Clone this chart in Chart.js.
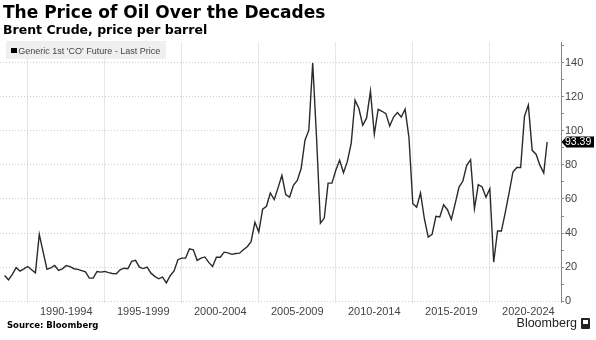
<!DOCTYPE html>
<html><head><meta charset="utf-8">
<script src="https://cdn.jsdelivr.net/npm/chart.js@4.4.0/dist/chart.umd.min.js"></script>
<style>
html,body{margin:0;padding:0;background:#fff;}
#wrap{position:relative;width:596px;height:340px;overflow:hidden;}
#c{position:absolute;left:0;top:0;}
.t{position:absolute;white-space:nowrap;}
#title{left:3px;top:4px;font:bold 17px/17px "DejaVu Sans";color:#000;}
#sub{left:3px;top:23.7px;font:bold 12.5px/12.5px "DejaVu Sans";color:#000;}
#leg{position:absolute;left:6px;top:40.5px;width:160px;height:18px;background:rgba(236,236,236,0.85);}
#legsq{position:absolute;left:11px;top:47.7px;width:5.5px;height:5.5px;background:#000;}
#legt{left:18.3px;top:46.7px;font:9px/9px "Liberation Sans";color:#444;}
#src{left:7px;top:320.8px;font:bold 8.5px/8.5px "DejaVu Sans";color:#000;}
#bb{right:19px;top:317.4px;font:12.5px/12.5px "Liberation Sans";color:#222;}
#ico{position:absolute;left:581px;top:318px;width:9px;height:11px;background:#222;border-radius:1px;}
#ico i{position:absolute;left:2px;top:2px;width:5px;height:4px;background:#fff;}
</style></head>
<body><div id="wrap">
<canvas id="c" width="596" height="340"></canvas>
<div class="t" id="title">The Price of Oil Over the Decades</div>
<div class="t" id="sub">Brent Crude, price per barrel</div>
<div id="leg"></div><div id="legsq"></div>
<div class="t" id="legt">Generic 1st 'CO' Future - Last Price</div>
<div class="t" id="src">Source: Bloomberg</div>
<div class="t" id="bb">Bloomberg</div>
<div id="ico"><i></i></div>
</div>
<script>
// Quarter-end observations (plus the latest print)
const quarters = [
 '1988Q2','1988Q3','1988Q4',
 '1989Q1','1989Q2','1989Q3','1989Q4',
 '1990Q1','1990Q2','1990Q3','1990Q4',
 '1991Q1','1991Q2','1991Q3','1991Q4',
 '1992Q1','1992Q2','1992Q3','1992Q4',
 '1993Q1','1993Q2','1993Q3','1993Q4',
 '1994Q1','1994Q2','1994Q3','1994Q4',
 '1995Q1','1995Q2','1995Q3','1995Q4',
 '1996Q1','1996Q2','1996Q3','1996Q4',
 '1997Q1','1997Q2','1997Q3','1997Q4',
 '1998Q1','1998Q2','1998Q3','1998Q4',
 '1999Q1','1999Q2','1999Q3','1999Q4',
 '2000Q1','2000Q2','2000Q3','2000Q4',
 '2001Q1','2001Q2','2001Q3','2001Q4',
 '2002Q1','2002Q2','2002Q3','2002Q4',
 '2003Q1','2003Q2','2003Q3','2003Q4',
 '2004Q1','2004Q2','2004Q3','2004Q4',
 '2005Q1','2005Q2','2005Q3','2005Q4',
 '2006Q1','2006Q2','2006Q3','2006Q4',
 '2007Q1','2007Q2','2007Q3','2007Q4',
 '2008Q1','2008Q2','2008Q3','2008Q4',
 '2009Q1','2009Q2','2009Q3','2009Q4',
 '2010Q1','2010Q2','2010Q3','2010Q4',
 '2011Q1','2011Q2','2011Q3','2011Q4',
 '2012Q1','2012Q2','2012Q3','2012Q4',
 '2013Q1','2013Q2','2013Q3','2013Q4',
 '2014Q1','2014Q2','2014Q3','2014Q4',
 '2015Q1','2015Q2','2015Q3','2015Q4',
 '2016Q1','2016Q2','2016Q3','2016Q4',
 '2017Q1','2017Q2','2017Q3','2017Q4',
 '2018Q1','2018Q2','2018Q3','2018Q4',
 '2019Q1','2019Q2','2019Q3','2019Q4',
 '2020Q1','2020Q2','2020Q3','2020Q4',
 '2021Q1','2021Q2','2021Q3','2021Q4',
 '2022Q1','2022Q2','2022Q3','2022Q4',
 '2023Q1','2023Q2','2023-09-21'
];
const prices = [
 15.1,12.6,15.8,
 19.7,17.7,19.0,20.4,
 18.5,16.7,39.2,29.0,
 18.7,19.6,21.0,18.1,
 19.0,21.0,20.3,19.1,
 18.7,18.0,17.3,13.6,
 13.6,17.5,17.1,17.5,
 16.8,16.3,16.1,18.5,
 19.4,19.1,23.4,24.0,
 20.0,19.2,20.0,16.5,
 14.6,13.2,14.2,10.8,
 15.0,17.8,24.4,25.3,
 25.4,30.8,30.2,24.0,
 25.3,26.0,22.8,20.4,
 25.9,25.8,28.8,28.4,
 27.5,28.0,28.2,30.2,
 32.0,35.0,46.3,40.6,
 54.0,55.7,63.5,59.6,
 66.5,73.8,62.5,61.1,
 68.0,70.9,77.8,94.4,
 100.3,139.7,96.0,45.8,
 48.8,69.3,69.3,76.8,
 82.7,75.4,82.0,92.5,
 117.9,113.0,103.2,107.5,
 123.2,97.9,112.6,111.4,
 110.0,102.8,108.0,110.6,
 108.0,112.6,96.0,57.2,
 55.2,63.5,48.4,37.6,
 39.2,49.8,49.4,56.6,
 53.7,48.0,57.3,67.0,
 70.5,79.7,83.0,54.3,
 68.4,67.0,61.0,66.0,
 23.0,41.2,41.2,52.0,
 63.5,75.8,78.4,78.4,
 108.5,115.0,88.5,86.2,
 79.8,75.2,93.39
];
const periodStarts = [1990,1995,2000,2005,2010,2015,2020];
const periodLabels = ['1990-1994','1995-1999','2000-2004','2005-2009','2010-2014','2015-2019','2020-2024'];
const yTickValues = [0,10,20,30,40,50,60,70,80,90,100,110,120,130,140,150];

function toYear(s){
  if (s.indexOf('Q') > 0){ const p = s.split('Q'); return +p[0] + (+p[1])*0.25; }
  const d = new Date(s + 'T00:00:00Z'); const y = d.getUTCFullYear();
  const a = Date.UTC(y,0,1), b = Date.UTC(y+1,0,1);
  return y + (d.getTime()-a)/(b-a);
}
const points = quarters.map((q,i)=>({x: toYear(q), y: prices[i]}));
const XMIN = 1988.2, XMAX = 2024.62, RIGHT_AXIS_W = 35;
const pxPerYear = (596 - RIGHT_AXIS_W) / (XMAX - XMIN);

const lastLabel = {
  id:'lastLabel',
  afterDraw(chart){
    const ctx = chart.ctx, ys = chart.scales.y, ca = chart.chartArea;
    const v = prices[prices.length-1];
    const y = ys.getPixelForValue(v);
    const x0 = ca.right + 0.5;
    ctx.save();
    ctx.fillStyle = '#000';
    ctx.beginPath();
    ctx.moveTo(x0, y);
    ctx.lineTo(x0+5, y-5.5);
    ctx.lineTo(594, y-5.5);
    ctx.lineTo(594, y+5.5);
    ctx.lineTo(x0+5, y+5.5);
    ctx.closePath();
    ctx.fill();
    ctx.fillStyle = '#fff';
    ctx.font = '10.5px "Liberation Sans"';
    ctx.textBaseline = 'middle';
    ctx.textAlign = 'left';
    ctx.fillText(v.toFixed(2), x0+3.5, y+0.5);
    ctx.restore();
  }
};

new Chart(document.getElementById('c'), {
  type:'line',
  data:{datasets:[{data: points, borderColor:'#2a2a2a', borderWidth:1.4, pointRadius:0, tension:0, fill:false}]},
  options:{
    responsive:false, animation:false, devicePixelRatio:1,
    layout:{padding:{left:0,right:0,top:42,bottom:0}},
    plugins:{legend:{display:false}, tooltip:{enabled:false}, title:{display:false}},
    scales:{
      x:{
        type:'linear', min:XMIN, max:XMAX, position:'bottom',
        afterBuildTicks: s => { s.ticks = periodStarts.map(v=>({value:v})); },
        afterFit: s => { s.height = 37.5; s.paddingLeft = 0; s.paddingRight = 0; },
        grid:{color:'#e6e6e6', lineWidth:1, drawTicks:false},
        border:{display:false},
        ticks:{
          callback:(v,i)=>periodLabels[i], labelOffset: pxPerYear*2.5, padding:3,
          maxRotation:0, autoSkip:false, font:{family:'Liberation Sans', size:11}, color:'#444'
        }
      },
      y:{
        position:'right', min:-0.7, max:152,
        afterBuildTicks: s => { s.ticks = yTickValues.map(v=>({value:v})); },
        afterFit: s => { s.width = RIGHT_AXIS_W; s.paddingTop = 0; s.paddingBottom = 0; },
        grid:{
          color: c => (c.tick && c.tick.value % 20 === 0) ? '#cccccc' : 'rgba(0,0,0,0)',
          lineWidth:1, tickLength:3, tickColor:'#888', drawTicks:true
        },
        border:{display:true, color:'#888', width:1, dash:[1,2]},
        ticks:{
          callback: v => (v % 20 === 0 ? String(v) : ''), padding:1,
          autoSkip:false, font:{family:'Liberation Sans', size:11}, color:'#444'
        }
      }
    }
  },
  plugins:[lastLabel]
});
</script>
</body></html>
